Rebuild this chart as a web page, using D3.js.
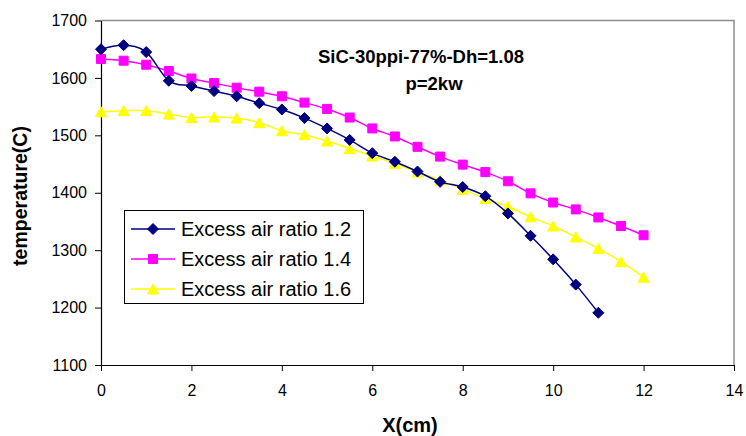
<!DOCTYPE html>
<html>
<head>
<meta charset="utf-8">
<script src="https://cdn.jsdelivr.net/npm/d3@7"></script>
<style>
  html, body { margin: 0; padding: 0; background: #fff; }
  svg { display: block; font-family: "Liberation Sans", Arial, sans-serif; }
</style>
</head>
<body>
<svg id="chart" width="746" height="436"></svg>
<script>
/* ── Data ── */
const xPos12 = [0, 0.5, 1, 1.5, 2, 2.5, 3, 3.5, 4, 4.5, 5, 5.5, 6, 6.5, 7, 7.5, 8, 8.5, 9, 9.5, 10, 10.5, 11];
const xPos14 = [0, 0.5, 1, 1.5, 2, 2.5, 3, 3.5, 4, 4.5, 5, 5.5, 6, 6.5, 7, 7.5, 8, 8.5, 9, 9.5, 10, 10.5, 11, 11.5, 12];
const xPos16 = xPos14;

const temp12 = [1650, 1657, 1645, 1595, 1586, 1577, 1568, 1556, 1545, 1530, 1512, 1492, 1469, 1454, 1437, 1419, 1410, 1394, 1364, 1325, 1284, 1240, 1191];
const temp14 = [1633, 1630, 1623, 1612, 1599, 1591, 1583, 1576, 1568, 1557, 1546, 1531, 1512, 1498, 1480, 1463, 1449, 1436, 1420, 1399, 1383, 1371, 1357, 1342, 1326];
const temp16 = [1541, 1543, 1543, 1537, 1531, 1532, 1530, 1522, 1508, 1501, 1490, 1477, 1464, 1451, 1436, 1422, 1406, 1390, 1376, 1358, 1342, 1323, 1303, 1280, 1253];

const seriesNames = ['Excess air ratio 1.2', 'Excess air ratio 1.4', 'Excess air ratio 1.6'];
const seriesColors = ['#000080', '#ff00ff', '#ffff00'];
const seriesMarkers = ['diamond', 'square', 'triangle'];

const xTicks = [0, 2, 4, 6, 8, 10, 12, 14];
const yTicks = [1100, 1200, 1300, 1400, 1500, 1600, 1700];

const titleLines = ['SiC-30ppi-77%-Dh=1.08', 'p=2kw'];

/* ── Layout ── */
const svg = d3.select('#chart');
const plot = { left: 101, right: 734, top: 20.5, bottom: 365 };

const x = d3.scaleLinear().domain([0, 14]).range([plot.left, plot.right]);
const y = d3.scaleLinear().domain([1100, 1700]).range([plot.bottom, plot.top]);

svg.append('rect').attr('width', 746).attr('height', 436).attr('fill', '#fff');

/* ── Plot frame: grey top/right edges ── */
svg.append('path')
  .attr('d', `M${plot.left},${plot.top}H${plot.right}V${plot.bottom}`)
  .attr('fill', 'none')
  .attr('stroke', '#8c8c8c')
  .attr('stroke-width', 1.5);

/* ── Axes ── */
const xAxis = svg.append('g')
  .attr('transform', `translate(0,${plot.bottom})`)
  .call(d3.axisBottom(x).tickValues(xTicks).tickSize(6).tickSizeOuter(0).tickFormat(d3.format('d')));
xAxis.select('.domain').attr('stroke', '#000').attr('stroke-width', 1.2);
xAxis.selectAll('line').attr('stroke', '#000');
xAxis.selectAll('text')
  .attr('font-family', '"Liberation Sans", Arial, sans-serif')
  .attr('font-size', 16)
  .attr('fill', '#000')
  .attr('y', 20)
  .attr('dy', '0.71em');

const yAxis = svg.append('g')
  .attr('transform', `translate(${plot.left},0)`)
  .call(d3.axisLeft(y).tickValues(yTicks).tickSize(6).tickSizeOuter(0).tickFormat(d3.format('d')));
yAxis.select('.domain').attr('stroke', '#000').attr('stroke-width', 1.2);
yAxis.selectAll('line').attr('stroke', '#000');
yAxis.selectAll('text')
  .attr('font-family', '"Liberation Sans", Arial, sans-serif')
  .attr('font-size', 16)
  .attr('fill', '#000')
  .attr('x', -14);

/* ── Axis titles ── */
svg.append('text')
  .attr('x', 410)
  .attr('y', 432)
  .attr('text-anchor', 'middle')
  .attr('font-weight', 'bold')
  .attr('font-size', 20)
  .text('X(cm)');

svg.append('text')
  .attr('transform', 'translate(27,196) rotate(-90)')
  .attr('text-anchor', 'middle')
  .attr('font-weight', 'bold')
  .attr('font-size', 19.5)
  .text('temperature(C)');

/* ── In-plot title (second line sits a little right of the first) ── */
const titleX = [421, 434];
titleLines.forEach((t, i) => {
  svg.append('text')
    .attr('x', titleX[i])
    .attr('y', 63 + i * 27)
    .attr('text-anchor', 'middle')
    .attr('font-weight', 'bold')
    .attr('font-size', 18.5)
    .text(t);
});

/* ── Marker shapes (centered on the data point) ── */
function markerPath(kind) {
  if (kind === 'diamond') return 'M0,-5.5L5.5,0L0,5.5L-5.5,0Z';
  if (kind === 'square') return 'M-4.5,-4.5H4.5V4.5H-4.5Z';
  return 'M0,-5L5.5,5H-5.5Z';
}

/* ── Series ── */
const line = d3.line()
  .x((d) => x(d[0]))
  .y((d) => y(d[1]))
  .curve(d3.curveCardinal.tension(0));

const seriesData = [
  d3.zip(xPos12, temp12),
  d3.zip(xPos14, temp14),
  d3.zip(xPos16, temp16)
];

// draw in reverse so the 1.2 series sits on top
[2, 1, 0].forEach((i) => {
  const pts = seriesData[i];
  svg.append('path')
    .datum(pts)
    .attr('d', line)
    .attr('fill', 'none')
    .attr('stroke', seriesColors[i])
    .attr('stroke-width', 1.5);

  svg.append('g')
    .selectAll('path')
    .data(pts)
    .join('path')
    .attr('transform', (d) => `translate(${x(d[0])},${y(d[1])})`)
    .attr('d', markerPath(seriesMarkers[i]))
    .attr('fill', seriesColors[i])
    .attr('stroke', seriesColors[i])
    .attr('stroke-width', 1);
});

/* ── Legend ── */
const legend = svg.append('g');
legend.append('rect')
  .attr('x', 124.5)
  .attr('y', 210.5)
  .attr('width', 239)
  .attr('height', 93)
  .attr('fill', '#fff')
  .attr('stroke', '#000')
  .attr('stroke-width', 1);

seriesNames.forEach((name, i) => {
  const cy = 229 + i * 30;
  legend.append('line')
    .attr('x1', 131).attr('x2', 175)
    .attr('y1', cy).attr('y2', cy)
    .attr('stroke', seriesColors[i])
    .attr('stroke-width', 1.5);
  legend.append('path')
    .attr('transform', `translate(153,${cy})`)
    .attr('d', markerPath(seriesMarkers[i]))
    .attr('fill', seriesColors[i])
    .attr('stroke', seriesColors[i]);
  legend.append('text')
    .attr('x', 181)
    .attr('y', cy)
    .attr('dy', '0.36em')
    .attr('font-size', 20)
    .text(name);
});
</script>
</body>
</html>
